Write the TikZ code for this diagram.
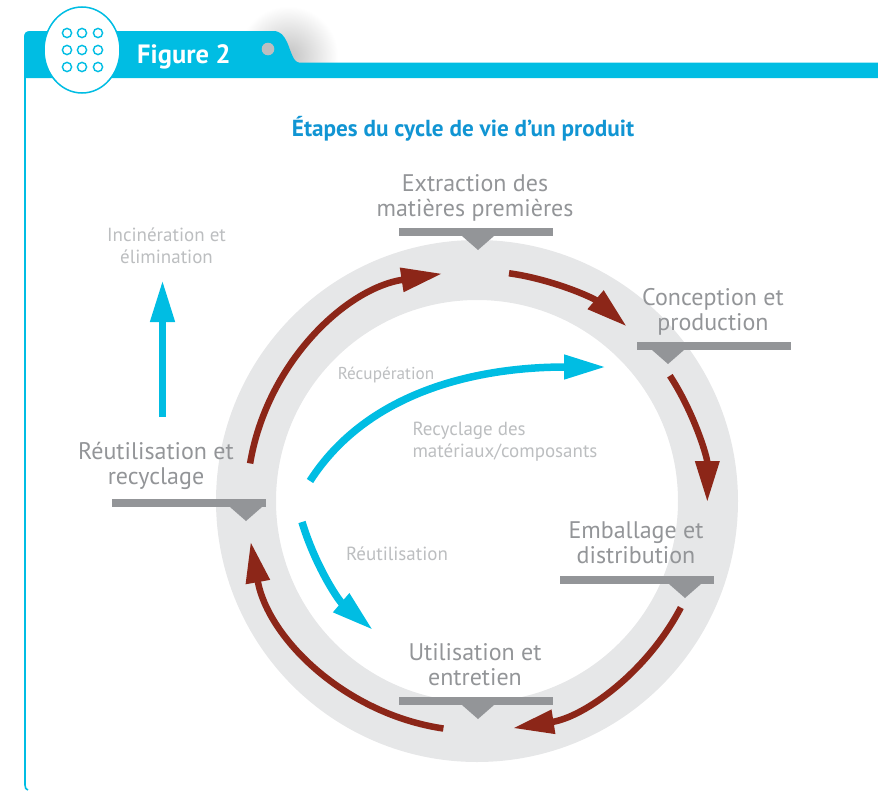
\documentclass[tikz,border=0pt]{standalone}
\usepackage{fontspec}
\setmainfont{PT Sans}
\usetikzlibrary{arrows.meta,shapes.geometric}
\definecolor{cy}{HTML}{00BDE3}
\definecolor{brn}{HTML}{8C2618}
\definecolor{ringc}{HTML}{E6E7E8}
\definecolor{barc}{HTML}{939598}
\definecolor{lightc}{HTML}{BCBEC0}
\definecolor{titlec}{HTML}{1195D3}
\tikzset{x=1pt,y=1pt,
 stagelabel/.style={align=center,text=barc,inner sep=0pt,font=\fontsize{24}{25}\selectfont},
 minorlabel/.style={align=center,text=lightc,inner sep=0pt,font=\fontsize{19}{22}\selectfont},
 redarrow/.style={draw=brn,line width=6.5pt,-{Triangle[length=41pt,width=23pt,fill=brn]}},
 bluearrow/.style={draw=cy,line width=7.5pt,-{Triangle[length=42pt,width=23pt,fill=cy]}}
}
\begin{document}
\begin{tikzpicture}
\useasboundingbox (0,0) rectangle (878,-790);
% soft shadow behind the tab
\begin{scope}
\clip (190,0) rectangle (340,-64);
\shade[inner color=black!24,outer color=white] (288,-56) circle (50);
\end{scope}
% header tab and band
\fill[cy] (24,-78) -- (24,-37) .. controls (24,-33) and (26,-31) .. (30,-31) -- (273,-31)
  .. controls (281,-31) and (284,-36) .. (287,-42) .. controls (291,-51) and (293,-62) .. (299,-62.5)
  -- (878,-62.5) -- (878,-78) -- cycle;
\draw[cy,line width=1.6pt] (25,-78) -- (25,-785) .. controls (25,-788) and (26,-789.5) .. (28,-790);
% logo
\node[ellipse,draw=cy,fill=white,line width=1.5pt,minimum width=76pt,minimum height=86pt,inner sep=0pt] (logo) at (82,-50) {};
\foreach \px in {67,82,98}\foreach \py in {33,50,67}
  \draw[cy,line width=1.4pt] (\px,-\py) circle (4.6);
\node[text=white,inner sep=0pt,font=\fontsize{26.5}{28}\bfseries\selectfont] (fig) at (184,-56.5) {Figure 2};
\fill[lightc] (268,-49) circle (6.3);
% title
\node[text=titlec,inner sep=0pt,font=\fontsize{23.2}{25}\bfseries\selectfont] (title) at (463,-129) {Étapes du cycle de vie d’un produit};
% ring
\coordinate (c) at (477,-501);
\draw[ringc,line width=60pt] (c) circle (231);
% stage bars
\foreach \bx/\by/\tx in {399/228/478, 637/342/668, 112/499/246, 560/576/685, 399/697/478}{
  \fill[barc] (\bx,-\by) rectangle (\bx+154,-\by-8);
  \fill[barc] (\tx-16,-\by-8) -- (\tx+16,-\by-8) -- (\tx,-\by-22) -- cycle;
}
% stage labels
\node[stagelabel] (ext) at (475,-197.5) {Extraction des\\matières premières};
\node[stagelabel] (con) at (713,-311.5) {Conception et\\production};
\node[stagelabel] (emb) at (636,-543) {Emballage et\\distribution};
\node[stagelabel] (uti) at (475,-665) {Utilisation et\\entretien};
\node[stagelabel] (reu) at (156,-465.5) {Réutilisation et\\recyclage};
% minor labels
\node[minorlabel] (inc) at (166.5,-245.5) {Incinération et\\élimination};
\node[minorlabel,font=\fontsize{17.2}{22}\selectfont] (rec) at (386,-375) {Récupération};
\node[minorlabel,align=left] (mat) at (505,-442) {Recyclage des\\matériaux/composants};
\node[minorlabel] (rut) at (397,-554) {Réutilisation};
% cycle arrows
\coordinate (a1) at ([shift={(82:230)}]c);
\coordinate (a2) at ([shift={(33:230)}]c);
\coordinate (a3) at ([shift={(-27.6:230)}]c);
\coordinate (a4) at ([shift={(261.6:230)}]c);
\coordinate (a5) at ([shift={(170.6:230)}]c);
\draw[redarrow] (a1) arc (82:49.4:230);
\draw[redarrow] (a2) arc (33:0:232);
\draw[redarrow] (a3) arc (-27.6:-81:230);
\draw[redarrow] (a4) arc (261.6:190.2:230);
\draw[redarrow] (a5) arc (170.6:98.7:230);
% blue arrows
\coordinate (b1s) at (162.5,-417);
\coordinate (b1e) at (162.5,-280);
\coordinate (b2s) at (310,-481);
\coordinate (b2e) at (606,-367);
\coordinate (b3s) at (302,-522);
\coordinate (b3e) at (373,-630);
\draw[bluearrow] (b1s) -- (b1e);
\draw[bluearrow] (b2s) .. controls (365,-395) and (470,-367) .. (b2e);
\draw[bluearrow] (b3s) .. controls (315,-565) and (338,-600) .. (b3e);
\end{tikzpicture}
\end{document}
